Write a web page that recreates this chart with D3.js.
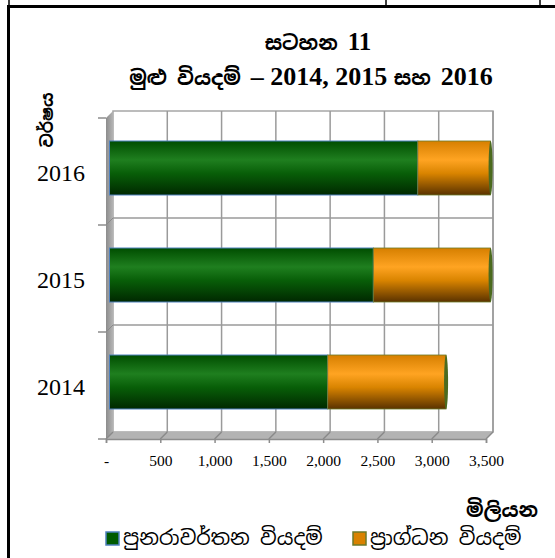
<!DOCTYPE html>
<html>
<head>
<meta charset="utf-8">
<script src="https://cdn.jsdelivr.net/npm/d3@7"></script>
<style>
  body { margin: 0; background: #fff; }
  svg { display: block; }
  .sin { font-family: "Noto Sans Sinhala", "Noto Serif Sinhala", "Iskoola Pota", "Noto Sans", sans-serif; }
  .num { font-family: "Liberation Serif", "Times New Roman", serif; }
</style>
</head>
<body>
<svg id="chart" width="555" height="558"></svg>
<script>
// data (millions)
var years = ["2016", "2015", "2014"];
var recurrent = { "2014": 2010, "2015": 2430, "2016": 2840 };
var capital = { "2014": 1090, "2015": 1080, "2016": 670 };
var xTicks = [0, 500, 1000, 1500, 2000, 2500, 3000, 3500];
var seriesNames = ["පුනරාවර්තන වියදම්", "ප්‍රාග්ධන වියදම්"];

var svg = d3.select("#chart");
var defs = svg.append("defs");

// depth offset of the 3d box
var dx = 7, dy = -7;

var x = d3.scaleLinear().domain([0, 3500]).range([106, 486]);
var y = d3.scaleBand().domain(years).range([118, 439]);

// frame bits from the page
svg.append("rect").attr("x", 7).attr("y", 5).attr("width", 548).attr("height", 3).attr("fill", "#000");
svg.append("rect").attr("x", 7).attr("y", 5).attr("width", 3).attr("height", 553).attr("fill", "#000");
[9, 386, 540].forEach(function (vx) {
  svg.append("line").attr("x1", vx).attr("x2", vx).attr("y1", 0).attr("y2", 5)
    .attr("stroke", "#000").attr("stroke-width", 1.5);
});

// title
var title = svg.append("text").attr("text-anchor", "middle").attr("fill", "#000");
title.append("tspan").attr("x", 318).attr("y", 50).attr("class", "sin")
  .attr("font-size", 20).attr("font-weight", "bold").text("සටහන ");
title.append("tspan").attr("class", "num").attr("font-size", 25).attr("font-weight", "bold").text(" 11");

var title2 = svg.append("text").attr("text-anchor", "middle").attr("fill", "#000");
title2.append("tspan").attr("x", 311).attr("y", 85).attr("class", "sin")
  .attr("font-size", 20).attr("font-weight", "bold").text("මුළු වියදම් ");
title2.append("tspan").attr("class", "num").attr("font-size", 26).attr("font-weight", "bold")
  .text("– 2014, 2015 ");
title2.append("tspan").attr("class", "sin").attr("font-size", 20).attr("font-weight", "bold").text("සහ ");
title2.append("tspan").attr("class", "num").attr("font-size", 26).attr("font-weight", "bold").text("2016");

// y axis title
svg.append("text").attr("class", "sin")
  .attr("transform", "translate(53,120) rotate(-90)")
  .attr("text-anchor", "middle").attr("font-size", 17).attr("font-weight", "bold")
  .text("වර්ෂය");

// back wall
var x0 = x.range()[0], x1 = x.range()[1];
var yTop = y.range()[0], yBot = y.range()[1];
svg.append("rect")
  .attr("x", x0 + dx).attr("y", yTop + dy)
  .attr("width", x1 - x0).attr("height", yBot - yTop)
  .attr("fill", "#fff").attr("stroke", "#a6a6a6").attr("stroke-width", 1.5);

// left wall
var wallGrad = defs.append("linearGradient").attr("id", "wall").attr("x1", 0).attr("x2", 1);
wallGrad.append("stop").attr("offset", "0%").attr("stop-color", "#8c8c8c");
wallGrad.append("stop").attr("offset", "100%").attr("stop-color", "#b4b4b4");
svg.append("polygon")
  .attr("points", [[x0, yTop], [x0 + dx, yTop + dy], [x0 + dx, yBot + dy], [x0, yBot]].join(" "))
  .attr("fill", "url(#wall)");

// floor
svg.append("polygon")
  .attr("points", [[x0, yBot], [x0 + dx, yBot + dy], [x1 + dx, yBot + dy], [x1, yBot]].join(" "))
  .attr("fill", "#b3b3b3");

// vertical grid on wall + floor
xTicks.forEach(function (v) {
  if (v > 0) {
    svg.append("line")
      .attr("x1", x(v) + dx).attr("x2", x(v) + dx)
      .attr("y1", yTop + dy).attr("y2", yBot + dy)
      .attr("stroke", "#9a9a9a").attr("stroke-width", 1.5);
  }
  svg.append("line")
    .attr("x1", x(v) + dx).attr("x2", x(v))
    .attr("y1", yBot + dy).attr("y2", yBot)
    .attr("stroke", "#8a8a8a").attr("stroke-width", 1.5);
});

// horizontal grid at band boundaries
var bounds = years.map(function (d) { return y(d); }).concat([yBot]);
bounds.forEach(function (b, i) {
  if (i > 0 && i < bounds.length - 1) {
    svg.append("line")
      .attr("x1", x0 + dx).attr("x2", x1 + dx)
      .attr("y1", b + dy).attr("y2", b + dy)
      .attr("stroke", "#9a9a9a").attr("stroke-width", 1.5);
    svg.append("line")
      .attr("x1", x0).attr("x2", x0 + dx)
      .attr("y1", b).attr("y2", b + dy)
      .attr("stroke", "#8a8a8a").attr("stroke-width", 1);
  }
  svg.append("line")
    .attr("x1", x0 - 8).attr("x2", x0)
    .attr("y1", b).attr("y2", b)
    .attr("stroke", "#8c8c8c").attr("stroke-width", 1.5);
});

// x axis
var xAxis = d3.axisBottom(x)
  .tickValues(xTicks)
  .tickSize(4)
  .tickPadding(12)
  .tickFormat(function (d) { return d === 0 ? "-" : d3.format(",")(d); });
var gx = svg.append("g").attr("transform", "translate(0," + yBot + ")").call(xAxis);
gx.attr("font-family", null);
gx.select(".domain").attr("stroke", "#8c8c8c").attr("stroke-width", 1.5);
gx.selectAll(".tick line").attr("stroke", "#8c8c8c").attr("stroke-width", 1.5);
gx.selectAll(".tick text").attr("class", "num").attr("font-size", 15.5).attr("fill", "#000");

// y axis labels
var yAxis = d3.axisLeft(y).tickSize(0).tickPadding(21);
var gy = svg.append("g").attr("transform", "translate(" + x0 + ",0)").call(yAxis);
gy.attr("font-family", null);
gy.select(".domain").remove();
gy.selectAll(".tick text").attr("class", "num").attr("font-size", 24).attr("fill", "#000").attr("dy", "0.4em");

// bar gradients (cylinder look)
function cyl(id, stops) {
  var g = defs.append("linearGradient").attr("id", id)
    .attr("x1", 0).attr("x2", 0).attr("y1", 0).attr("y2", 1);
  stops.forEach(function (s) {
    g.append("stop").attr("offset", s[0]).attr("stop-color", s[1]);
  });
}
cyl("green", [["0%", "#004d00"], ["35%", "#1f7f1f"], ["60%", "#085e08"], ["100%", "#002800"]]);
cyl("orange", [["0%", "#d67f00"], ["35%", "#ffa422"], ["60%", "#d98400"], ["100%", "#5a3200"]]);

var barH = 54;
var bars = svg.append("g").attr("transform", "translate(" + dx / 2 + "," + dy / 2 + ")");

years.forEach(function (yr) {
  var cy = y(yr) + y.bandwidth() / 2;
  var top = cy - barH / 2;
  var r = recurrent[yr], c = capital[yr];
  bars.append("rect")
    .attr("x", x(0)).attr("y", top)
    .attr("width", x(r) - x(0)).attr("height", barH)
    .attr("fill", "url(#green)").attr("stroke", "#4f81bd").attr("stroke-width", 1);
  bars.append("rect")
    .attr("x", x(r)).attr("y", top)
    .attr("width", x(r + c) - x(r)).attr("height", barH)
    .attr("fill", "url(#orange)").attr("stroke", "#6b7a2a").attr("stroke-width", 0.8);
  bars.append("ellipse")
    .attr("cx", x(r + c)).attr("cy", cy)
    .attr("rx", 2).attr("ry", barH / 2)
    .attr("fill", "#4b6a1e");
});

// units label
svg.append("text").attr("class", "sin")
  .attr("x", 538).attr("y", 517).attr("text-anchor", "end")
  .attr("font-size", 20).attr("font-weight", "bold").text("මිලියන");

// legend
var legendColors = ["#005a00", "#d98200"];
var legendStroke = ["#4f81bd", "#6b7a2a"];
var legendX = [106, 353];
seriesNames.forEach(function (name, i) {
  svg.append("rect")
    .attr("x", legendX[i]).attr("y", 532).attr("width", 13).attr("height", 13)
    .attr("fill", legendColors[i]).attr("stroke", legendStroke[i]).attr("stroke-width", 1.5);
  svg.append("text").attr("class", "sin")
    .attr("x", legendX[i] + 17).attr("y", 545)
    .attr("font-size", 20.5).text(name);
});
</script>
</body>
</html>
